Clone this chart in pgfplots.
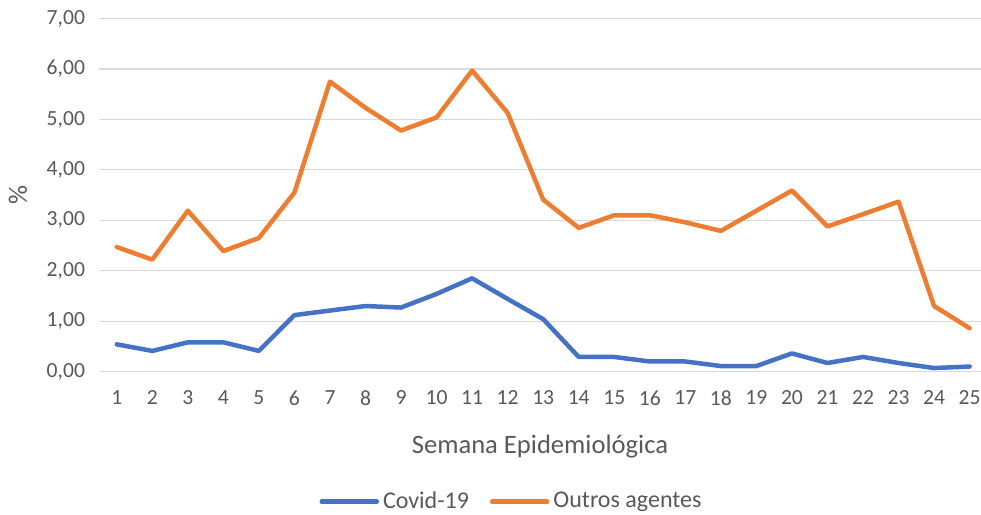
\documentclass[border=0pt]{standalone}
\usepackage{pgfplots}
\pgfplotsset{compat=1.18}
\usepackage{fontspec}
\setmainfont{Carlito}
\usetikzlibrary{calc}
\definecolor{cblue}{HTML}{4472C4}
\definecolor{corange}{HTML}{ED7D31}
\definecolor{tgray}{HTML}{595959}
\definecolor{ggray}{HTML}{D9D9D9}
\begin{document}
\begin{tikzpicture}
\begin{axis}[
  scale only axis,
  width=441pt, height=176.5pt,
  xmin=0.5, xmax=25.32,
  ymin=0, ymax=7,
  xtick={1,...,25},
  ytick={0,1,...,7},
  axis line style={draw=none},
  major tick length=0pt,
  ymajorgrids,
  grid style={ggray, line width=0.6pt},
  tick label style={font=\fontsize{10.8}{12}\selectfont, text=tgray},
  yticklabel style={xshift=-3.5pt, /pgf/number format/.cd, fixed, fixed zerofill, precision=2, use comma, assume math mode=true},
  xticklabel style={yshift=-6pt, /pgf/number format/assume math mode=true},
  xlabel={Semana Epidemiológica},
  ylabel={\%},
  label style={font=\fontsize{13.3}{15}\selectfont, text=tgray},
  xlabel style={at={(axis description cs:0.5,0)}, anchor=center, yshift=-37.5pt},
  ylabel style={at={([xshift=-40.5pt]axis description cs:0,0.5)}, anchor=center},
  legend columns=2,
  legend style={at={(axis description cs:0.5,0)}, anchor=center, yshift=-65pt, xshift=-13.75pt, draw=none,
    font=\fontsize{12}{14}\selectfont, text=tgray,
    /tikz/every even column/.append style={column sep=8.5pt}},
  legend image code/.code={\draw[#1, line cap=round] (0pt,0pt) -- (27.5pt,0pt);},
  every axis plot/.append style={line width=2.25pt, line join=round, line cap=round, no marks},
]
\coordinate (bl) at (rel axis cs:0,0);
\coordinate (tr) at (rel axis cs:1,1);
\addplot[cblue] coordinates {
(1,0.54) (2,0.41) (3,0.58) (4,0.58) (5,0.41) (6,1.12) (7,1.21) (8,1.30) (9,1.27) (10,1.54)
(11,1.85) (12,1.44) (13,1.04) (14,0.29) (15,0.29) (16,0.20) (17,0.20) (18,0.11) (19,0.11) (20,0.36)
(21,0.17) (22,0.29) (23,0.17) (24,0.07) (25,0.10)};
\addlegendentry{Covid-19}
\addplot[corange] coordinates {
(1,2.47) (2,2.22) (3,3.19) (4,2.39) (5,2.65) (6,3.55) (7,5.75) (8,5.23) (9,4.78) (10,5.04)
(11,5.97) (12,5.13) (13,3.41) (14,2.85) (15,3.10) (16,3.10) (17,2.96) (18,2.79) (19,3.19) (20,3.59)
(21,2.88) (22,3.12) (23,3.37) (24,1.30) (25,0.86)};
\addlegendentry{Outros agentes}
\end{axis}
\pgfresetboundingbox
\path[use as bounding box] ($(bl)+(-49.5pt,-71.65pt)$) rectangle ($(tr)+(0pt,9.3pt)$);
\end{tikzpicture}
\end{document}
